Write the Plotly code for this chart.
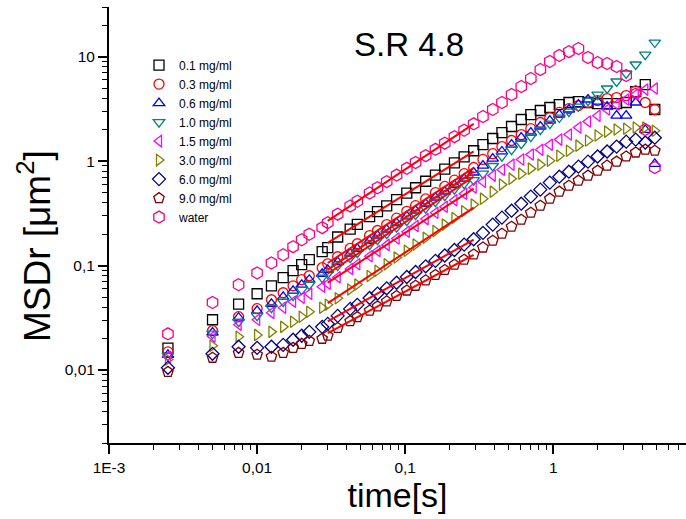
import plotly.graph_objects as go

# ---------------- data ----------------
time_s = [0.0025, 0.005, 0.0075, 0.01, 0.0125, 0.015, 0.0175, 0.02, 0.0225, 0.0275, 0.03,
          0.035, 0.0425, 0.0475, 0.0575, 0.065, 0.075, 0.0875, 0.1025, 0.1175, 0.1375, 0.16,
          0.185, 0.215, 0.25, 0.29,
          0.335, 0.39, 0.45, 0.5225, 0.6075, 0.705, 0.8175, 0.9475, 1.0975, 1.275, 1.4775,
          1.715, 1.99, 2.3075, 2.675, 3.105, 3.6, 4.1775, 4.845]

msd_01 = [0.0162, 0.0303, 0.0428, 0.0538, 0.064, 0.0766, 0.0894, 0.102, 0.114, 0.136, 0.149,
          0.188, 0.224, 0.248, 0.294, 0.329, 0.373, 0.428, 0.494, 0.557, 0.643, 0.737, 0.84, 0.962, 1.10, 1.26,
          1.44, 1.65, 1.88, 2.15, 2.51, 2.80, 3.06, 3.27, 3.49, 3.65, 3.73, 3.65, 3.56, 3.56, 3.56, 3.65, 4.65, 5.42, 3.13]
msd_03 = [0.0149, 0.0238, 0.0324, 0.0387, 0.0471, 0.055, 0.0641, 0.0733, 0.080, 0.0955, 0.104,
          0.1216, 0.146, 0.162, 0.194, 0.217, 0.247, 0.285, 0.331, 0.375, 0.435, 0.5, 0.573, 0.659, 0.759, 0.871,
          1.04, 1.18, 1.38, 1.58, 1.80, 2.05, 2.35, 2.62, 2.93, 3.19, 3.41, 3.65, 3.81, 3.98, 4.07, 4.25, 4.45, 3.65, 3.13]
msd_06 = [0.014, 0.0228, 0.0317, 0.0369, 0.0431, 0.0503, 0.0574, 0.0656, 0.0733, 0.0836, 0.0913,
          0.108, 0.1306, 0.145, 0.173, 0.194, 0.221, 0.255, 0.296, 0.336, 0.39, 0.448, 0.513, 0.59, 0.679, 0.78,
          0.908, 1.06, 1.24, 1.44, 1.68, 1.88, 2.15, 2.45, 2.80, 3.13, 3.49, 3.90, 3.73, 3.34, 2.73, 2.73, 3.65, 2.0, 0.944]
msd_10 = [0.0137, 0.0223, 0.029, 0.0331, 0.0395, 0.0451, 0.0515, 0.0587, 0.0656, 0.0766, 0.0836,
          0.0998, 0.119, 0.133, 0.159, 0.177, 0.202, 0.233, 0.27, 0.308, 0.355, 0.41, 0.468, 0.54, 0.61, 0.66,
          0.76, 0.90, 1.12, 1.29, 1.47, 1.72, 2.01, 2.29, 2.62, 2.99, 3.34, 3.81, 4.35, 4.97, 5.80, 6.92, 8.44, 10.5, 13.7]
msd_15 = [0.0134, 0.0209, 0.0271, 0.0303, 0.0353, 0.0395, 0.0451, 0.0492, 0.0537, 0.0628, 0.067,
          0.0775, 0.0927, 0.103, 0.123, 0.138, 0.158, 0.182, 0.211, 0.24, 0.279, 0.321, 0.367, 0.423, 0.488, 0.56,
          0.637, 0.728, 0.83, 0.927, 1.04, 1.16, 1.29, 1.44, 1.61, 1.80, 2.10, 2.40, 2.73, 3.13, 3.49, 3.90, 4.35, 4.85, 4.97]
msd_30 = [0.0126, 0.0171, 0.0208, 0.0217, 0.0232, 0.0259, 0.029, 0.0324, 0.0361, 0.0395, 0.0422,
          0.0487, 0.0591, 0.066, 0.0795, 0.0893, 0.1028, 0.1194, 0.139, 0.159, 0.185, 0.214, 0.247, 0.286, 0.332, 0.384,
          0.438, 0.511, 0.597, 0.681, 0.76, 0.849, 0.927, 1.01, 1.13, 1.26, 1.41, 1.58, 1.76, 1.92, 2.01, 2.05, 2.10, 2.10, 1.96]
msd_60 = [0.0105, 0.0143, 0.0167, 0.0163, 0.0167, 0.0174, 0.0195, 0.0213, 0.0232, 0.0259, 0.0277,
          0.033, 0.0385, 0.0421, 0.049, 0.054, 0.0606, 0.0686, 0.0778, 0.0869, 0.0985, 0.111, 0.125, 0.141, 0.159, 0.179,
          0.206, 0.247, 0.288, 0.336, 0.392, 0.458, 0.534, 0.624, 0.711, 0.794, 0.887, 0.991, 1.11, 1.24, 1.38, 1.54, 1.61, 1.51, 1.68]
msd_90 = [0.0096, 0.0131, 0.0146, 0.014, 0.0134, 0.0146, 0.0163, 0.0178, 0.019, 0.0199, 0.0213,
          0.0253, 0.0294, 0.0321, 0.0371, 0.0407, 0.0455, 0.0512, 0.0577, 0.0641, 0.0723, 0.0813, 0.0908, 0.102, 0.114, 0.128,
          0.149, 0.173, 0.202, 0.236, 0.275, 0.321, 0.375, 0.438, 0.511, 0.583, 0.652, 0.728, 0.813, 0.908, 0.991, 1.11, 1.21, 1.29, 1.26]
msd_water = [0.0222, 0.0444, 0.0656, 0.085, 0.106, 0.127, 0.152, 0.177, 0.2, 0.231, 0.258,
             0.311, 0.372, 0.414, 0.496, 0.557, 0.637, 0.736, 0.855, 0.972, 1.13, 1.30, 1.49, 1.72, 1.98, 2.28,
             2.68, 3.13, 3.65, 4.35, 5.19, 6.19, 7.55, 9.02, 10.3, 11.2, 12.0, 9.85, 8.81, 8.62, 8.07, 6.62, 4.65, 2.01, 0.87]

labels = ["0.1 mg/ml", "0.3 mg/ml", "0.6 mg/ml", "1.0 mg/ml", "1.5 mg/ml",
          "3.0 mg/ml", "6.0 mg/ml", "9.0 mg/ml", "water"]

# power-law fit segments (start/end values over fit_t)
fit_t = [0.03, 0.29]
fit_01 = [0.165, 1.245]
fit_03 = [0.106, 0.863]
fit_06 = [0.0914, 0.794]
fit_10 = [0.0836, 0.711]
fit_15 = [0.0686, 0.546]
fit_30 = [0.0437, 0.359]
fit_60 = [0.0292, 0.177]
fit_90 = [0.0226, 0.127]
fit_water = [0.268, 2.28]

# tick label text (Origin style, decimal comma)
x_label_alias = {"0,001": "1E-3", "0.001": "1E-3"}

# ---------------- styles ----------------
series = [msd_01, msd_03, msd_06, msd_10, msd_15, msd_30, msd_60, msd_90, msd_water]
fits = [fit_01, fit_03, fit_06, fit_10, fit_15, fit_30, fit_60, fit_90, fit_water]
colors = ["#000000", "#ff0000", "#0000ff", "#008080", "#ff00ff",
          "#808000", "#000080", "#800000", "#ff0080"]
symbols = ["square-open", "circle-open", "triangle-up-open", "triangle-down-open",
           "triangle-left-open", "triangle-right-open", "diamond-open", "pentagon-open",
           "hexagon-open"]
sizes = [10, 10, 10, 10, 10, 10, 10, 11, 12]

FONT = "Liberation Sans, Arial, sans-serif"
XRANGE = [-3, 0.896]
YRANGE = [-2.69897, 1.47712]

fig = go.Figure()
for vals, lab, col, sym, sz in zip(series, labels, colors, symbols, sizes):
    fig.add_trace(go.Scatter(
        x=time_s[:len(vals)], y=vals, mode="markers", name=lab,
        marker=dict(symbol=sym, size=sz, color=col, line=dict(color=col, width=1.3)),
    ))
for fv in fits:
    fig.add_trace(go.Scatter(
        x=fit_t, y=fv, mode="lines", showlegend=False, hoverinfo="skip",
        line=dict(color="#ff0000", width=2),
    ))

axis_common = dict(
    type="log", showgrid=False, zeroline=False,
    showline=True, linecolor="black", linewidth=2,
    tickmode="linear", tick0=0, dtick=1,
    ticks="outside", ticklen=9, tickwidth=1.6, tickcolor="black",
    tickfont=dict(family=FONT, size=15.5, color="black"),
    minor=dict(ticks="outside", ticklen=5, tickwidth=1.3, tickcolor="black",
               dtick="D1", showgrid=False),
)

fig.update_layout(
    width=686, height=519,
    margin=dict(l=109, r=0, t=7, b=76),
    paper_bgcolor="white", plot_bgcolor="white",
    font=dict(family=FONT, color="black"),
    separators=",.",
    showlegend=True,
    legend=dict(
        x=0.052, y=0.9, xanchor="left", yanchor="top",
        bgcolor="rgba(0,0,0,0)", borderwidth=0,
        font=dict(family=FONT, size=12, color="black"),
    ),
    xaxis=dict(
        range=XRANGE, labelalias=x_label_alias,
        title=dict(text="time[s]", font=dict(family=FONT, size=34, color="black"), standoff=8),
        **axis_common,
    ),
    yaxis=dict(
        range=YRANGE,
        **axis_common,
    ),
    annotations=[
        dict(text="S.R 4.8", xref="paper", yref="paper", x=0.52, y=0.913,
             xanchor="center", yanchor="middle", showarrow=False,
             font=dict(family=FONT, size=33, color="black")),
        dict(text="MSDr [μm<sup>2</sup>]", xref="paper", yref="paper", x=-0.128, y=0.452,
             xanchor="center", yanchor="middle", textangle=-90, showarrow=False,
             font=dict(family=FONT, size=37, color="black")),
    ],
)

fig.write_html("out.html")
